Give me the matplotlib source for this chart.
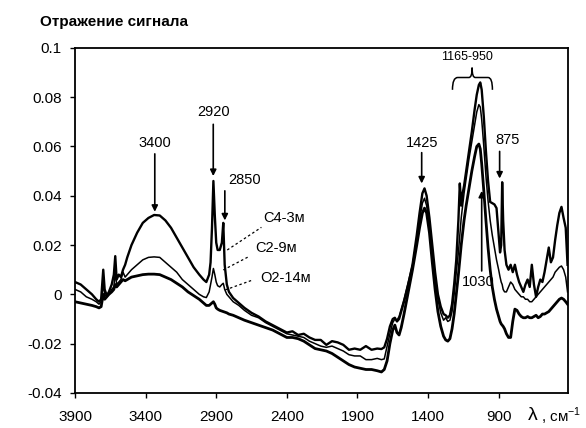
import matplotlib
matplotlib.use("Agg")
import matplotlib.pyplot as plt
from matplotlib.path import Path
from matplotlib.patches import PathPatch

plt.rcParams['font.family'] = ['Liberation Sans', 'DejaVu Sans']

# Волновые числа, см-1 (общая сетка для трёх спектров)
wavenumber = [
    3900, 3860, 3820, 3780, 3750, 3730, 3715, 3700, 3690, 3675,
    3660, 3640, 3625, 3615, 3605, 3590, 3575, 3560, 3545, 3530,
    3500, 3460, 3420, 3380, 3340, 3300, 3260, 3220, 3180, 3140,
    3100, 3060, 3020, 2990, 2970,
    2950, 2940, 2930, 2920, 2910, 2900, 2890, 2875, 2860, 2850,
    2840, 2825, 2810,
    2780, 2740, 2700, 2650, 2600, 2550, 2500, 2450, 2400, 2360,
    2320, 2280, 2240, 2200, 2160, 2120, 2080, 2040, 2000, 1960,
    1920, 1880, 1840, 1800, 1760, 1730, 1710,
    1690, 1670, 1650, 1635, 1620, 1605, 1590, 1570, 1540, 1510,
    1480, 1460, 1440, 1425, 1410, 1390, 1370, 1350, 1330, 1310,
    1290, 1275, 1260, 1245, 1230, 1215, 1200,
    1185, 1175, 1165, 1155, 1145, 1130, 1110, 1090, 1070, 1055,
    1040, 1030, 1020, 1005, 990, 975, 960, 945, 930, 915,
    900, 890, 882, 875, 868, 858, 845,
    830, 815, 800, 785, 770, 755, 740, 725, 710, 695,
    680, 665, 650, 635, 620, 605, 590, 575, 560, 545,
    530, 515, 500, 485, 470, 455, 440, 425, 412,
]

c4_3m = [
    0.005, 0.004, 0.002, 0.0, -0.002, -0.003, -0.002, 0.010, 0.002, -0.0005,
    0.001, 0.004, 0.008, 0.0155, 0.006, 0.008, 0.007, 0.010, 0.012, 0.015,
    0.020, 0.025, 0.029, 0.031, 0.0322, 0.032, 0.030, 0.027, 0.023, 0.019,
    0.015, 0.011, 0.008, 0.006, 0.005,
    0.008, 0.013, 0.027, 0.046, 0.032, 0.021, 0.018, 0.018, 0.021, 0.029,
    0.012, 0.004, 0.001,
    -0.0015, -0.0035, -0.0055, -0.0075, -0.009, -0.011, -0.0125, -0.014, -0.0155, -0.015,
    -0.0165, -0.016, -0.0175, -0.0185, -0.0185, -0.0205, -0.019, -0.0195, -0.0205, -0.0225,
    -0.022, -0.0225, -0.021, -0.0225, -0.022, -0.0222, -0.0215,
    -0.018, -0.013, -0.010, -0.0095, -0.011, -0.010, -0.007, -0.003, 0.004, 0.012,
    0.024, 0.033, 0.041, 0.043, 0.040, 0.031, 0.020, 0.009, 0.000, -0.005,
    -0.008, -0.0085, -0.0095, -0.0085, -0.004, 0.004, 0.014,
    0.030, 0.045, 0.036, 0.041, 0.044, 0.050, 0.058, 0.066, 0.075, 0.081,
    0.085, 0.086, 0.083, 0.072, 0.058, 0.046, 0.0375, 0.037, 0.0365, 0.035,
    0.024, 0.017, 0.020, 0.0455, 0.030, 0.018, 0.012,
    0.010, 0.012, 0.009, 0.012, 0.008, 0.005, 0.003, 0.001, 0.004, 0.006,
    0.003, 0.012, 0.004, -0.001, 0.003, 0.006, 0.005, 0.009, 0.014, 0.019,
    0.013, 0.015, 0.022, 0.028, 0.033, 0.0355, 0.031, 0.027, 0.012,
]

c2_9m = [
    0.002, 0.001, -0.001, -0.002, -0.003, -0.004, -0.003, 0.004, 0.000, -0.001,
    0.000, 0.002, 0.003, 0.009, 0.004, 0.005, 0.006, 0.009, 0.007, 0.008,
    0.010, 0.012, 0.014, 0.015, 0.0152, 0.015, 0.013, 0.011, 0.009, 0.006,
    0.004, 0.002, 0.000, -0.001, -0.0013,
    0.001, 0.004, 0.007, 0.0105, 0.008, 0.005, 0.0035, 0.003, 0.004, 0.0045,
    0.002, 0.0, -0.001,
    -0.003, -0.0045, -0.0065, -0.0085, -0.0095, -0.0115, -0.013, -0.0145, -0.016, -0.0165,
    -0.017, -0.0175, -0.019, -0.020, -0.021, -0.0215, -0.021, -0.022, -0.023, -0.0245,
    -0.025, -0.025, -0.0265, -0.0265, -0.026, -0.0265, -0.0262,
    -0.021, -0.016, -0.0115, -0.010, -0.0105, -0.009, -0.006, -0.002, 0.005, 0.012,
    0.022, 0.030, 0.037, 0.039, 0.036, 0.027, 0.016, 0.006, -0.002, -0.0075,
    -0.0105, -0.0095, -0.011, -0.0105, -0.007, 0.000, 0.009,
    0.017, 0.024, 0.031, 0.036, 0.041, 0.047, 0.055, 0.062, 0.069, 0.074,
    0.077, 0.076, 0.071, 0.060, 0.048, 0.038, 0.030, 0.024, 0.019, 0.014,
    0.010, 0.007, 0.005, 0.004, 0.002, 0.001, 0.001,
    0.003, 0.005, 0.004, 0.002, 0.001, 0.000, -0.001, -0.001, -0.002, -0.002,
    -0.003, -0.003, -0.002, -0.001, 0.000, 0.001, 0.002, 0.003, 0.004, 0.005,
    0.006, 0.007, 0.009, 0.010, 0.011, 0.0115, 0.010, 0.007, 0.001,
]

o2_14m = [
    -0.003, -0.0035, -0.004, -0.0045, -0.005, -0.0055, -0.005, 0.0, -0.002, -0.001,
    0.000, 0.001, 0.002, 0.004, 0.003, 0.004, 0.005, 0.006, 0.0055, 0.006,
    0.007, 0.0075, 0.008, 0.0082, 0.0082, 0.008, 0.007, 0.006, 0.0045, 0.003,
    0.001, -0.0005, -0.002, -0.0035, -0.0045,
    -0.0045, -0.004, -0.0035, -0.003, -0.004, -0.0055, -0.006, -0.0065, -0.0068, -0.007,
    -0.0072, -0.0075, -0.008,
    -0.0085, -0.0095, -0.0105, -0.0115, -0.0125, -0.0135, -0.0145, -0.016, -0.0175, -0.0175,
    -0.018, -0.019, -0.0205, -0.022, -0.0225, -0.023, -0.024, -0.0255, -0.027, -0.0285,
    -0.0295, -0.030, -0.0305, -0.0305, -0.031, -0.0315, -0.0305,
    -0.027, -0.020, -0.0145, -0.0125, -0.0155, -0.0165, -0.0135, -0.008, 0.001, 0.010,
    0.020, 0.027, 0.033, 0.035, 0.033, 0.025, 0.013, 0.002, -0.007, -0.013,
    -0.017, -0.0185, -0.019, -0.018, -0.014, -0.008, 0.000,
    0.008, 0.014, 0.020, 0.025, 0.030, 0.036, 0.043, 0.050, 0.056, 0.060,
    0.061, 0.059, 0.053, 0.042, 0.030, 0.019, 0.010, 0.003, -0.002, -0.006,
    -0.009, -0.011, -0.012, -0.0125, -0.013, -0.014, -0.016,
    -0.0175, -0.0175, -0.011, -0.006, -0.0065, -0.008, -0.009, -0.0095, -0.0095, -0.009,
    -0.0095, -0.0095, -0.009, -0.0085, -0.0095, -0.009, -0.008, -0.008, -0.0075, -0.007,
    -0.006, -0.005, -0.004, -0.003, -0.002, -0.0015, -0.002, -0.003, -0.004,
]

x_ticks = [3900, 3400, 2900, 2400, 1900, 1400, 900]
y_ticks = [-0.04, -0.02, 0, 0.02, 0.04, 0.06, 0.08, 0.1]
y_tick_labels = ['-0.04', '-0.02', '0', '0.02', '0.04', '0.06', '0.08', '0.1']

fig = plt.figure(figsize=(5.86, 4.28), dpi=100)
ax = fig.add_axes([0.128, 0.082, 0.841, 0.806])

ax.plot(wavenumber, c4_3m, color='black', lw=1.7)
ax.plot(wavenumber, c2_9m, color='black', lw=1.1)
ax.plot(wavenumber, o2_14m, color='black', lw=2.0)

ax.set_xlim(3900, 410)
ax.set_ylim(-0.04, 0.1)
ax.set_xticks(x_ticks)
ax.set_xticklabels([str(t) for t in x_ticks])
ax.set_yticks(y_ticks)
ax.set_yticklabels(y_tick_labels)
ax.tick_params(axis='both', labelsize=11, length=3.5, width=1, direction='out')
ax.tick_params(axis='x', pad=9)
ax.tick_params(axis='y', pad=6)
for sp in ax.spines.values():
    sp.set_linewidth(1.3)

# подписи пиков со стрелками
arrow_kw = dict(arrowstyle='-|>', color='black', lw=1.2, mutation_scale=9,
                shrinkA=0, shrinkB=0)
peaks = [
    ('3400', 3335, 0.0615, 0.057, 0.0335),
    ('2920', 2921, 0.074, 0.069, 0.048),
    ('1425', 1445, 0.0615, 0.0575, 0.045),
]
for txt, xp, yt, y0, y1 in peaks:
    ax.text(xp, yt, txt, ha='center', va='center', fontsize=10.5)
    ax.annotate('', xy=(xp, y1), xytext=(xp, y0), arrowprops=arrow_kw)

ax.text(2700, 0.0465, '2850', ha='center', va='center', fontsize=10.5)
ax.annotate('', xy=(2839, 0.030), xytext=(2839, 0.042), arrowprops=arrow_kw)

ax.text(837, 0.0627, '875', ha='center', va='center', fontsize=10.5)
ax.annotate('', xy=(893, 0.047), xytext=(893, 0.058), arrowprops=arrow_kw)

ax.text(1042, 0.005, '1030', ha='center', va='center', fontsize=10.5)
ax.annotate('', xy=(1020, 0.042), xytext=(1020, 0.0095), arrowprops=arrow_kw)

# фигурная скобка над полосой 1165-950
ax.text(1127, 0.0965, '1165-950', ha='center', va='center', fontsize=9)
brace = Path(
    [(1227, 0.083), (1227, 0.088), (1190, 0.088), (1110, 0.088),
     (1088, 0.088), (1088, 0.092), (1088, 0.088), (1066, 0.088),
     (975, 0.088), (944, 0.088), (944, 0.083)],
    [Path.MOVETO, Path.CURVE3, Path.CURVE3, Path.LINETO,
     Path.CURVE3, Path.CURVE3, Path.CURVE3, Path.CURVE3,
     Path.LINETO, Path.CURVE3, Path.CURVE3])
ax.add_patch(PathPatch(brace, fill=False, lw=1.1, color='black'))

# подписи образцов с пунктирными выносками
samples = [
    ('C4-3м', 2567, 0.031, (2822, 0.018), (2580, 0.0272)),
    ('C2-9м', 2624, 0.019, (2850, 0.0099), (2673, 0.0152)),
    ('O2-14м', 2588, 0.0067, (2836, 0.0018), (2638, 0.0059)),
]
for name, xt, yt, p0, p1 in samples:
    ax.text(xt, yt, name, ha='left', va='center', fontsize=10.5)
    ax.plot([p0[0], p1[0]], [p0[1], p1[1]], color='black', lw=0.9,
            linestyle=(0, (2, 2)))

# подпись оси X справа, под концом шкалы
ax.text(0.918, -0.066, 'λ', transform=ax.transAxes,
        ha='left', va='center', fontsize=14)
ax.text(0.945, -0.068, ', см$^{\\mathregular{-1}}$', transform=ax.transAxes,
        ha='left', va='center', fontsize=11)
fig.text(0.068, 0.949, 'Отражение сигнала', ha='left', va='center',
         fontsize=11, fontweight='bold')

fig.savefig('out.png', dpi=100)
